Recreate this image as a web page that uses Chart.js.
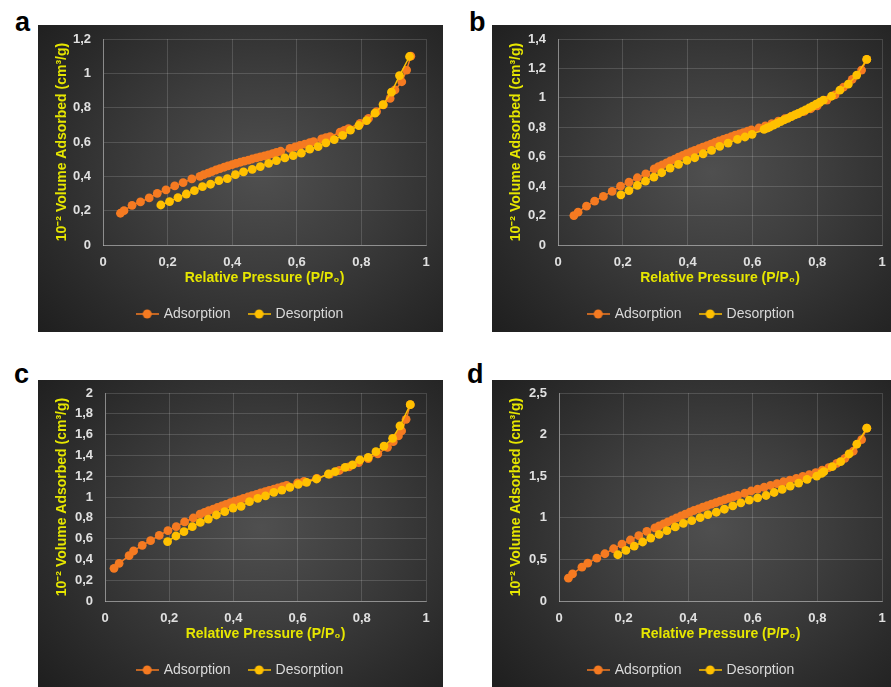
<!DOCTYPE html>
<html>
<head>
<meta charset="utf-8">
<script src="https://cdn.jsdelivr.net/npm/chart.js@4.4.1/dist/chart.umd.min.js"></script>
<style>
  body { margin: 0; background: #fff; width: 891px; height: 687px; position: relative; overflow: hidden; }
  .panel {
    position: absolute;
    background: radial-gradient(ellipse 72% 78% at 55% 48%, #4f4f4f 0%, #3d3d3d 40%, #2b2b2b 75%, #1f1f1f 100%);
  }
  .tag { position: absolute; font: bold 27px "Liberation Sans", Arial, sans-serif; line-height: 1; color: #000; }
</style>
</head>
<body>
<div class="tag" style="left:15px;top:9px">a</div>
<div class="tag" style="left:469px;top:9px">b</div>
<div class="tag" style="left:14px;top:361px">c</div>
<div class="tag" style="left:467px;top:361px">d</div>

<div class="panel" style="left:38px;top:25px;width:405px;height:307px"><canvas id="chartA"></canvas></div>
<div class="panel" style="left:492px;top:25px;width:399px;height:307px"><canvas id="chartB"></canvas></div>
<div class="panel" style="left:38px;top:380px;width:405px;height:307px"><canvas id="chartC"></canvas></div>
<div class="panel" style="left:492px;top:380px;width:399px;height:307px"><canvas id="chartD"></canvas></div>

<script>
// values (P/P0 and 10^-2 cm3/g)

// panel a
const aAdsP = [0.054, 0.065, 0.090, 0.116, 0.143, 0.168, 0.195, 0.222, 0.248, 0.275,
  0.300, 0.312, 0.325, 0.337, 0.350, 0.362, 0.375, 0.387, 0.400, 0.412, 0.425, 0.437, 0.450,
  0.462, 0.475, 0.487, 0.500, 0.512, 0.525, 0.537, 0.550,
  0.579, 0.595, 0.610, 0.625, 0.640, 0.652, 0.677, 0.690, 0.703, 0.734, 0.747, 0.760,
  0.796, 0.822, 0.847, 0.868, 0.889, 0.904, 0.925, 0.940, 0.953];
const aAdsV = [0.185, 0.200, 0.231, 0.251, 0.274, 0.301, 0.321, 0.344, 0.363, 0.385,
  0.400, 0.410, 0.419, 0.428, 0.437, 0.445, 0.453, 0.461, 0.468, 0.475, 0.482, 0.489, 0.495,
  0.501, 0.507, 0.513, 0.519, 0.525, 0.532, 0.539, 0.546,
  0.563, 0.572, 0.580, 0.588, 0.596, 0.602, 0.618, 0.625, 0.631, 0.657, 0.668, 0.678,
  0.709, 0.737, 0.777, 0.816, 0.854, 0.903, 0.951, 1.019, 1.100];
const aDesP = [0.949, 0.918, 0.893, 0.867, 0.842, 0.816, 0.792, 0.766, 0.742, 0.716, 0.690,
  0.666, 0.640, 0.614, 0.589, 0.563, 0.537, 0.513, 0.487, 0.462, 0.435, 0.410, 0.385,
  0.359, 0.333, 0.308, 0.283, 0.258, 0.232, 0.206, 0.179];
const aDesV = [1.098, 0.987, 0.890, 0.818, 0.768, 0.725, 0.696, 0.669, 0.639, 0.614, 0.595,
  0.573, 0.558, 0.535, 0.521, 0.507, 0.492, 0.476, 0.457, 0.441, 0.426, 0.410, 0.387,
  0.375, 0.354, 0.340, 0.317, 0.297, 0.276, 0.253, 0.233];

// panel b
const bAdsP = [0.049, 0.062, 0.088, 0.113, 0.140, 0.167, 0.193, 0.219, 0.245, 0.271,
  0.297, 0.310, 0.322, 0.335, 0.347, 0.360, 0.372, 0.385, 0.397, 0.410, 0.422, 0.435, 0.447,
  0.460, 0.472, 0.485, 0.497, 0.510, 0.522, 0.535, 0.547, 0.560, 0.572, 0.585, 0.597,
  0.620, 0.640, 0.660, 0.680, 0.700, 0.720, 0.740, 0.760, 0.780, 0.800, 0.830, 0.855,
  0.881, 0.908, 0.937, 0.953];
const bAdsV = [0.200, 0.223, 0.264, 0.298, 0.330, 0.364, 0.400, 0.427, 0.457, 0.484,
  0.518, 0.532, 0.545, 0.558, 0.571, 0.584, 0.597, 0.609, 0.621, 0.632, 0.643, 0.654, 0.665,
  0.676, 0.686, 0.697, 0.707, 0.717, 0.727, 0.737, 0.746, 0.755, 0.764, 0.773, 0.782,
  0.795, 0.810, 0.825, 0.842, 0.858, 0.874, 0.891, 0.908, 0.926, 0.946, 0.985, 1.020,
  1.072, 1.126, 1.189, 1.261];
const bDesP = [0.953, 0.922, 0.896, 0.870, 0.844, 0.819, 0.808, 0.797, 0.786, 0.775, 0.764,
  0.753, 0.742, 0.731, 0.720, 0.709, 0.698, 0.687, 0.676, 0.665, 0.654, 0.645, 0.636,
  0.599, 0.577, 0.554, 0.525, 0.499, 0.474, 0.448, 0.422, 0.398, 0.372, 0.346, 0.320,
  0.296, 0.270, 0.245, 0.219, 0.194];
const bDesV = [1.261, 1.155, 1.093, 1.052, 1.011, 0.984, 0.970, 0.957, 0.944, 0.931, 0.919,
  0.907, 0.895, 0.884, 0.872, 0.861, 0.850, 0.838, 0.827, 0.815, 0.802, 0.795, 0.786,
  0.752, 0.734, 0.718, 0.693, 0.670, 0.643, 0.620, 0.593, 0.575, 0.548, 0.523, 0.491,
  0.461, 0.434, 0.405, 0.370, 0.341];

// panel c
const cAdsP = [0.028, 0.044, 0.075, 0.089, 0.116, 0.142, 0.169, 0.196, 0.222, 0.248, 0.275,
  0.296, 0.310, 0.323, 0.337, 0.350, 0.364, 0.377, 0.391, 0.404, 0.418, 0.431, 0.445,
  0.458, 0.472, 0.485, 0.499, 0.512, 0.526, 0.539, 0.553, 0.566,
  0.600, 0.620, 0.660, 0.700, 0.730, 0.760, 0.790, 0.820, 0.850, 0.880, 0.898, 0.914,
  0.924, 0.938, 0.951];
const cAdsV = [0.314, 0.362, 0.436, 0.481, 0.535, 0.580, 0.631, 0.676, 0.715, 0.760, 0.798,
  0.835, 0.852, 0.868, 0.884, 0.899, 0.915, 0.930, 0.945, 0.959, 0.973, 0.987, 1.000,
  1.013, 1.026, 1.039, 1.052, 1.064, 1.076, 1.088, 1.100, 1.112,
  1.135, 1.150, 1.180, 1.220, 1.255, 1.290, 1.330, 1.370, 1.415, 1.478, 1.532, 1.587,
  1.635, 1.747, 1.888];
const cDesP = [0.951, 0.919, 0.896, 0.869, 0.844, 0.820, 0.794, 0.771, 0.748, 0.717, 0.696,
  0.659, 0.628, 0.602, 0.576, 0.551, 0.526, 0.500, 0.476, 0.450, 0.424, 0.399, 0.373,
  0.347, 0.322, 0.297, 0.272, 0.246, 0.221, 0.195];
const cDesV = [1.888, 1.683, 1.564, 1.490, 1.436, 1.381, 1.356, 1.308, 1.285, 1.244, 1.221,
  1.173, 1.141, 1.122, 1.093, 1.067, 1.045, 1.010, 0.987, 0.955, 0.910, 0.894, 0.859,
  0.827, 0.788, 0.756, 0.715, 0.667, 0.625, 0.571];

// panel d
const dAdsP = [0.029, 0.042, 0.071, 0.089, 0.117, 0.142, 0.169, 0.195, 0.221, 0.247, 0.272,
  0.297, 0.310, 0.324, 0.337, 0.351, 0.364, 0.378, 0.391, 0.405, 0.418, 0.432, 0.445,
  0.459, 0.472, 0.486, 0.499, 0.513, 0.526, 0.540, 0.553,
  0.575, 0.595, 0.615, 0.635, 0.655, 0.675, 0.695, 0.715, 0.735, 0.755, 0.775, 0.795,
  0.815, 0.835, 0.860, 0.885, 0.911, 0.937, 0.953];
const dAdsV = [0.274, 0.326, 0.407, 0.455, 0.515, 0.568, 0.628, 0.684, 0.733, 0.785, 0.837,
  0.878, 0.903, 0.928, 0.952, 0.976, 0.999, 1.022, 1.045, 1.067, 1.088, 1.108, 1.127,
  1.146, 1.164, 1.183, 1.200, 1.218, 1.235, 1.252, 1.268,
  1.295, 1.322, 1.345, 1.367, 1.389, 1.411, 1.433, 1.454, 1.475, 1.497, 1.518, 1.543,
  1.572, 1.604, 1.655, 1.715, 1.800, 1.940, 2.077];
const dDesP = [0.953, 0.922, 0.898, 0.872, 0.846, 0.820, 0.813, 0.798, 0.768, 0.742, 0.716,
  0.691, 0.666, 0.641, 0.615, 0.589, 0.563, 0.538, 0.512, 0.487, 0.461, 0.437, 0.411,
  0.385, 0.360, 0.334, 0.310, 0.284, 0.259, 0.233, 0.207, 0.182];
const dDesV = [2.077, 1.884, 1.767, 1.675, 1.614, 1.554, 1.534, 1.502, 1.461, 1.417, 1.381,
  1.341, 1.304, 1.268, 1.240, 1.212, 1.180, 1.143, 1.103, 1.067, 1.039, 1.002, 0.966,
  0.934, 0.890, 0.845, 0.801, 0.757, 0.709, 0.660, 0.608, 0.556];

const xTitle = 'Relative Pressure (P/P\u2080)';
const yTitle = '10\u207B\u00B2 Volume Adsorbed (cm\u00B3/g)';
const seriesNames = ['Adsorption', 'Desorption'];
const seriesColors = ['#f57a21', '#ffc000'];

const FONT = '"Liberation Sans", Arial, sans-serif';

function toPoints(xs, ys) {
  return xs.map((x, i) => ({ x: x, y: ys[i] }));
}

// little line-with-dot marker for the legend
function makeMarker(color) {
  const c = document.createElement('canvas');
  c.width = 23; c.height = 10;
  const g = c.getContext('2d');
  g.strokeStyle = color; g.lineWidth = 1.5;
  g.beginPath(); g.moveTo(0, 5); g.lineTo(23, 5); g.stroke();
  g.fillStyle = color;
  g.beginPath(); g.arc(11.5, 5, 4.5, 0, Math.PI * 2); g.fill();
  return c;
}
const markers = seriesColors.map(makeMarker);

function fmt(v) {
  return String(Math.round(v * 10) / 10).replace('.', ',');
}

// box: canvas width, y-axis width, gap right of plot, top gap, bottom gap
function makePanel(id, box, ads, des, yMax, yStep) {
  const canvas = document.getElementById(id);
  canvas.width = box.w; canvas.height = 307;
  canvas.style.width = box.w + 'px'; canvas.style.height = '307px';

  const ds = (i, data, order) => ({
    label: seriesNames[i],
    data: data,
    borderColor: seriesColors[i],
    backgroundColor: seriesColors[i],
    borderWidth: 1.5,
    pointRadius: 4.4,
    pointBorderWidth: 0,
    showLine: true,
    order: order
  });

  return new Chart(canvas, {
    type: 'scatter',
    data: { datasets: [ds(0, ads, 1), ds(1, des, 0)] },
    options: {
      responsive: false,
      animation: false,
      layout: { padding: { left: 0, right: 0, top: box.top, bottom: box.bottom } },
      plugins: {
        tooltip: { enabled: false },
        legend: {
          position: 'bottom',
          labels: {
            usePointStyle: true,
            pointStyleWidth: 19,
            padding: 19,
            color: '#d9d9d9',
            font: { family: FONT, size: 14 },
            sort: (a, b) => a.datasetIndex - b.datasetIndex,
            generateLabels: (chart) =>
              Chart.defaults.plugins.legend.labels.generateLabels(chart).map(l =>
                Object.assign(l, { pointStyle: markers[l.datasetIndex], fontColor: '#d9d9d9' }))
          }
        }
      },
      scales: {
        x: {
          type: 'linear',
          min: 0, max: 1,
          afterFit: s => { s.height = 43; s.paddingLeft = 0; s.paddingRight = box.right; },
          ticks: { stepSize: 0.2, padding: 10, color: '#e0e0e0', font: { family: FONT, size: 13, weight: 'bold' }, callback: fmt },
          grid: { color: 'rgba(255,255,255,0.15)', drawTicks: false },
          border: { color: 'rgba(255,255,255,0.35)' },
          title: { display: true, text: xTitle, color: '#e6e600', padding: { top: 1, bottom: 1 }, font: { family: FONT, size: 14, weight: 'bold' } }
        },
        y: {
          min: 0, max: yMax,
          afterFit: s => { s.width = box.yw; s.paddingTop = 0; s.paddingBottom = 0; },
          ticks: { stepSize: yStep, padding: 12, color: '#e0e0e0', font: { family: FONT, size: 13, weight: 'bold' }, callback: fmt },
          grid: { color: 'rgba(255,255,255,0.15)', drawTicks: false },
          border: { color: 'rgba(255,255,255,0.35)' },
          title: { display: true, text: yTitle, color: '#e6e600', padding: { top: 16, bottom: 0 }, font: { family: FONT, size: 14, weight: 'bold' } }
        }
      }
    }
  });
}

makePanel('chartA', { w: 405, yw: 65, right: 17, top: 14, bottom: 1 }, toPoints(aAdsP, aAdsV), toPoints(aDesP, aDesV), 1.2, 0.2);
makePanel('chartB', { w: 399, yw: 66, right: 9, top: 14, bottom: 1 }, toPoints(bAdsP, bAdsV), toPoints(bDesP, bDesV), 1.4, 0.2);
makePanel('chartC', { w: 405, yw: 67, right: 17, top: 13, bottom: 0 }, toPoints(cAdsP, cAdsV), toPoints(cDesP, cDesV), 2, 0.2);
makePanel('chartD', { w: 399, yw: 67, right: 9, top: 13, bottom: 0 }, toPoints(dAdsP, dAdsV), toPoints(dDesP, dDesV), 2.5, 0.5);
</script>
</body>
</html>
